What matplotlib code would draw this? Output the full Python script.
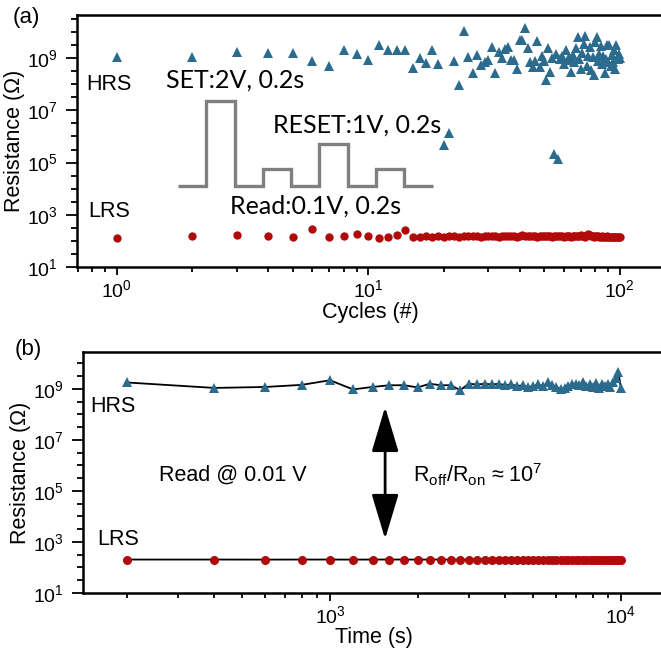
import numpy as np
import matplotlib
matplotlib.use("Agg")
import matplotlib.pyplot as plt
from matplotlib.ticker import FixedLocator, LogLocator, LogFormatterSciNotation, NullFormatter
from matplotlib.patches import ArrowStyle

plt.rcParams['font.family'] = ['Liberation Sans', 'DejaVu Sans']
plt.rcParams['mathtext.fontset'] = 'custom'
plt.rcParams['mathtext.rm'] = 'Liberation Sans'
plt.rcParams['mathtext.it'] = 'Liberation Sans:italic'
plt.rcParams['mathtext.bf'] = 'Liberation Sans:bold'

BLUE = '#2b6b8e'
RED = '#b00a0a'
GRAY = '#7f7f7f'

# (a) cycling
cycles = list(range(1, 101))
hrs_cycle = [
    1.1e9, 1.1e9, 1.7e9, 1.6e9, 1.6e9, 7.8e8, 5.0e8, 2.1e9, 1.5e9, 8.7e8,
    3.3e9, 2.1e9, 2.1e9, 2.0e9, 4.2e8, 1.05e9, 6.6e8, 2.1e9, 6.2e8, 4.9e5,
    1.35e6, 7.8e8, 9.1e7, 1.1e10, 1.1e9, 2.7e8, 1.3e9, 5.4e8, 7.2e8, 8.3e8,
    2.7e9, 2.7e8, 1.7e9, 1.0e9, 2.3e9, 2.7e9, 8.5e8, 8.7e8, 4.0e8, 4.8e9,
    5.2e9, 1.4e10, 2.4e9, 7.0e8, 4.6e8, 8.0e8, 4.6e9, 4.7e8, 1.2e9, 8.0e8,
    1.4e8, 2.4e9, 3.0e8, 1.0e9, 2.1e5, 1.5e9, 1.35e5, 9.0e8, 1.2e9, 6.0e8,
    2.0e9, 8.5e8, 1.1e9, 3.0e8, 1.3e9, 7.0e8, 2.5e9, 6.6e9, 9.0e8, 4.0e8,
    1.6e9, 3.5e9, 7.0e9, 5.0e8, 1.2e9, 2.8e9, 3.5e8, 1.1e9, 2.3e8, 4.0e9,
    6.6e9, 8.0e8, 1.5e9, 3.0e9, 6.0e8, 1.2e9, 2.6e8, 9.0e8, 3.2e9, 7.0e8,
    3.2e9, 5.0e8, 1.3e9, 7.4e8, 2.0e9, 4.0e8, 3.2e9, 9.0e8, 1.5e9, 1.0e9]
lrs_cycle = [
    133, 155, 174, 155, 145, 276, 142, 155, 178, 158,
    129, 142, 163, 253, 138, 142, 148, 145, 152, 140,
    155, 150, 145, 160, 150, 148, 155, 145, 150, 152,
    160, 150, 145, 155, 150, 148, 158, 150, 145, 150,
    165, 155, 148, 150, 160, 152, 145, 150, 155, 148,
    150, 160, 150, 145, 152, 150, 148, 155, 150, 145,
    150, 158, 150, 145, 160, 150, 155, 148, 150, 165,
    160, 150, 145, 170, 180, 175, 160, 150, 145, 155,
    150, 148, 140, 145, 150, 140, 138, 145, 150, 140,
    142, 138, 145, 140, 142, 140, 138, 140, 142, 140]

# pulse schematic: SET, read, RESET, read
pulse_levels = [0, 2.0, 0, 0.4, 0, 1.0, 0, 0.4, 0]
pulse_widths = [0.2, 0.2, 0.2, 0.2, 0.2, 0.2, 0.2, 0.2, 0.2]

# (b) retention
times = [200, 400, 600, 800, 1000, 1200, 1400, 1600, 1800, 2000,
         2200, 2400, 2600, 2800, 3000, 3200, 3400, 3600, 3800, 4000,
         4200, 4400, 4600, 4800, 5000, 5200, 5400, 5600, 5800, 6000,
         6200, 6400, 6600, 6800, 7000, 7200, 7400, 7600, 7800, 8000,
         8200, 8400, 8600, 8800, 9000, 9200, 9400, 9600, 9800, 10000]
hrs_time = [1.8e9, 1.1e9, 1.2e9, 1.45e9, 2.2e9, 9.6e8, 1.2e9, 1.4e9, 1.4e9, 1.15e9,
            1.6e9, 1.4e9, 1.4e9, 9.0e8, 1.6e9, 1.5e9, 1.6e9, 1.5e9, 1.6e9, 1.4e9,
            1.5e9, 1.3e9, 1.4e9, 1.2e9, 1.3e9, 1.5e9, 1.3e9, 1.8e9, 1.4e9, 1.2e9,
            1.0e9, 1.1e9, 1.3e9, 1.5e9, 1.6e9, 1.4e9, 1.8e9, 1.3e9, 1.6e9, 1.2e9,
            1.7e9, 1.1e9, 1.5e9, 1.3e9, 1.6e9, 1.2e9, 1.8e9, 2.7e9, 4.8e9, 1.05e9]
lrs_time = [205, 205, 204, 205, 205, 204, 205, 205, 205, 204,
            205, 205, 205, 204, 205, 205, 205, 205, 204, 205,
            205, 205, 205, 205, 204, 205, 205, 205, 205, 205,
            204, 205, 205, 205, 205, 205, 204, 205, 205, 205,
            205, 205, 205, 204, 205, 205, 205, 205, 205, 205]

W, H = 661, 650
fig = plt.figure(figsize=(W / 100, H / 100), dpi=100)


def px_axes(left, top, right, bottom):
    return fig.add_axes([left / W, 1 - bottom / H, (right - left) / W, (bottom - top) / H])


def style(ax):
    for s in ax.spines.values():
        s.set_linewidth(1.8)
    ax.set_yscale('log')
    ax.set_xscale('log')
    ax.yaxis.set_major_locator(FixedLocator([1e1, 1e3, 1e5, 1e7, 1e9]))
    ax.yaxis.set_major_formatter(LogFormatterSciNotation())
    ax.yaxis.set_minor_locator(LogLocator(base=10, subs=(1.0, 3.16), numticks=30))
    ax.yaxis.set_minor_formatter(NullFormatter())
    ax.xaxis.set_minor_locator(LogLocator(base=10, subs=np.arange(2, 10), numticks=30))
    ax.xaxis.set_minor_formatter(NullFormatter())
    ax.tick_params(which='both', direction='out', width=1.3, labelsize=14)
    ax.tick_params(axis='y', which='major', length=8, pad=6)
    ax.tick_params(axis='y', which='minor', length=4.5)
    ax.tick_params(axis='x', which='major', length=6, pad=3)
    ax.tick_params(axis='x', which='minor', length=3.5)


# ---- (a)
ax1 = px_axes(77, 15, 664, 267)
style(ax1)
ax1.plot(cycles, hrs_cycle, '^', color=BLUE, ms=7.5, mew=0)
ax1.plot(cycles, lrs_cycle, 'o', color=RED, ms=6, mew=0)
ax1.set_xlim(10 ** -0.158, 10 ** 2.176)
ax1.set_ylim(1e1, 10 ** 10.655)
ax1.set_xlabel('Cycles (#)', fontsize=15.5)
ax1.set_ylabel('Resistance (\u03a9)', fontsize=15.5)
ax1.xaxis.set_label_coords(0.5, -0.14)
ax1.yaxis.set_label_coords(-0.088, 0.5)

ax1.text(0.015, 0.726, 'HRS', transform=ax1.transAxes, fontsize=15.5, va='center')
ax1.text(0.019, 0.222, 'LRS', transform=ax1.transAxes, fontsize=15.5, va='center')
ax1.text(0.152, 0.742, 'SET:2V, 0.2s', transform=ax1.transAxes, fontsize=18,
         family=['Lato', 'DejaVu Sans'], va='center')
ax1.text(0.334, 0.563, 'RESET:1V, 0.2s', transform=ax1.transAxes, fontsize=18,
         family=['Lato', 'DejaVu Sans'], va='center')
ax1.text(0.261, 0.242, 'Read:0.1V, 0.2s', transform=ax1.transAxes, fontsize=18,
         family=['Lato', 'DejaVu Sans'], va='center')

pulse = ax1.inset_axes([0.172, 0.321, 0.434, 0.337])
pulse.axis('off')
edges = np.concatenate([[0], np.cumsum(pulse_widths)])
pulse.stairs(pulse_levels, edges, baseline=None, color=GRAY, lw=2.4, clip_on=False)
pulse.set_xlim(edges[0], edges[-1])
pulse.set_ylim(0, max(pulse_levels))

fig.text(26 / W, 1 - 17 / H, '(a)', fontsize=16, ha='center', va='center')

# ---- (b)
ax2 = px_axes(83, 352, 664, 593)
style(ax2)
ax2.plot(times, hrs_time, '-', color='black', lw=1.3, zorder=2)
ax2.plot(times, lrs_time, '-', color='black', lw=1.3, zorder=2)
ax2.plot(times, hrs_time, '^', color=BLUE, ms=6.5, mew=0, zorder=3)
ax2.plot(times, lrs_time, 'o', color=RED, ms=6.5, mew=0, zorder=3)
ax2.set_xlim(10 ** 2.151, 10 ** 4.148)
ax2.set_ylim(1e1, 10 ** 10.45)
ax2.set_xlabel('Time (s)', fontsize=15.5)
ax2.set_ylabel('Resistance (\u03a9)', fontsize=15.5)
ax2.xaxis.set_label_coords(0.5, -0.14)
ax2.yaxis.set_label_coords(-0.09, 0.5)

ax2.text(0.012, 0.772, 'HRS', transform=ax2.transAxes, fontsize=15.5, va='center')
ax2.text(0.024, 0.224, 'LRS', transform=ax2.transAxes, fontsize=15.5, va='center')
ax2.text(0.131, 0.49, 'Read @ 0.01 V', transform=ax2.transAxes, fontsize=15.5, va='center')
ax2.text(0.568, 0.49, 'R$_{\\mathrm{off}}$/R$_{\\mathrm{on}}$ \u2248 10$^{7}$',
         transform=ax2.transAxes, fontsize=15.5, va='center')
ax2.annotate('', xy=(0.52, 0.772), xytext=(0.52, 0.224), xycoords='axes fraction',
             arrowprops=dict(arrowstyle=ArrowStyle('<|-|>', head_length=1.4, head_width=0.42),
                             mutation_scale=20, lw=2, color='black', shrinkA=0, shrinkB=0))

fig.text(28 / W, 1 - 350 / H, '(b)', fontsize=16, ha='center', va='center')

fig.savefig('out.png', dpi=100)
